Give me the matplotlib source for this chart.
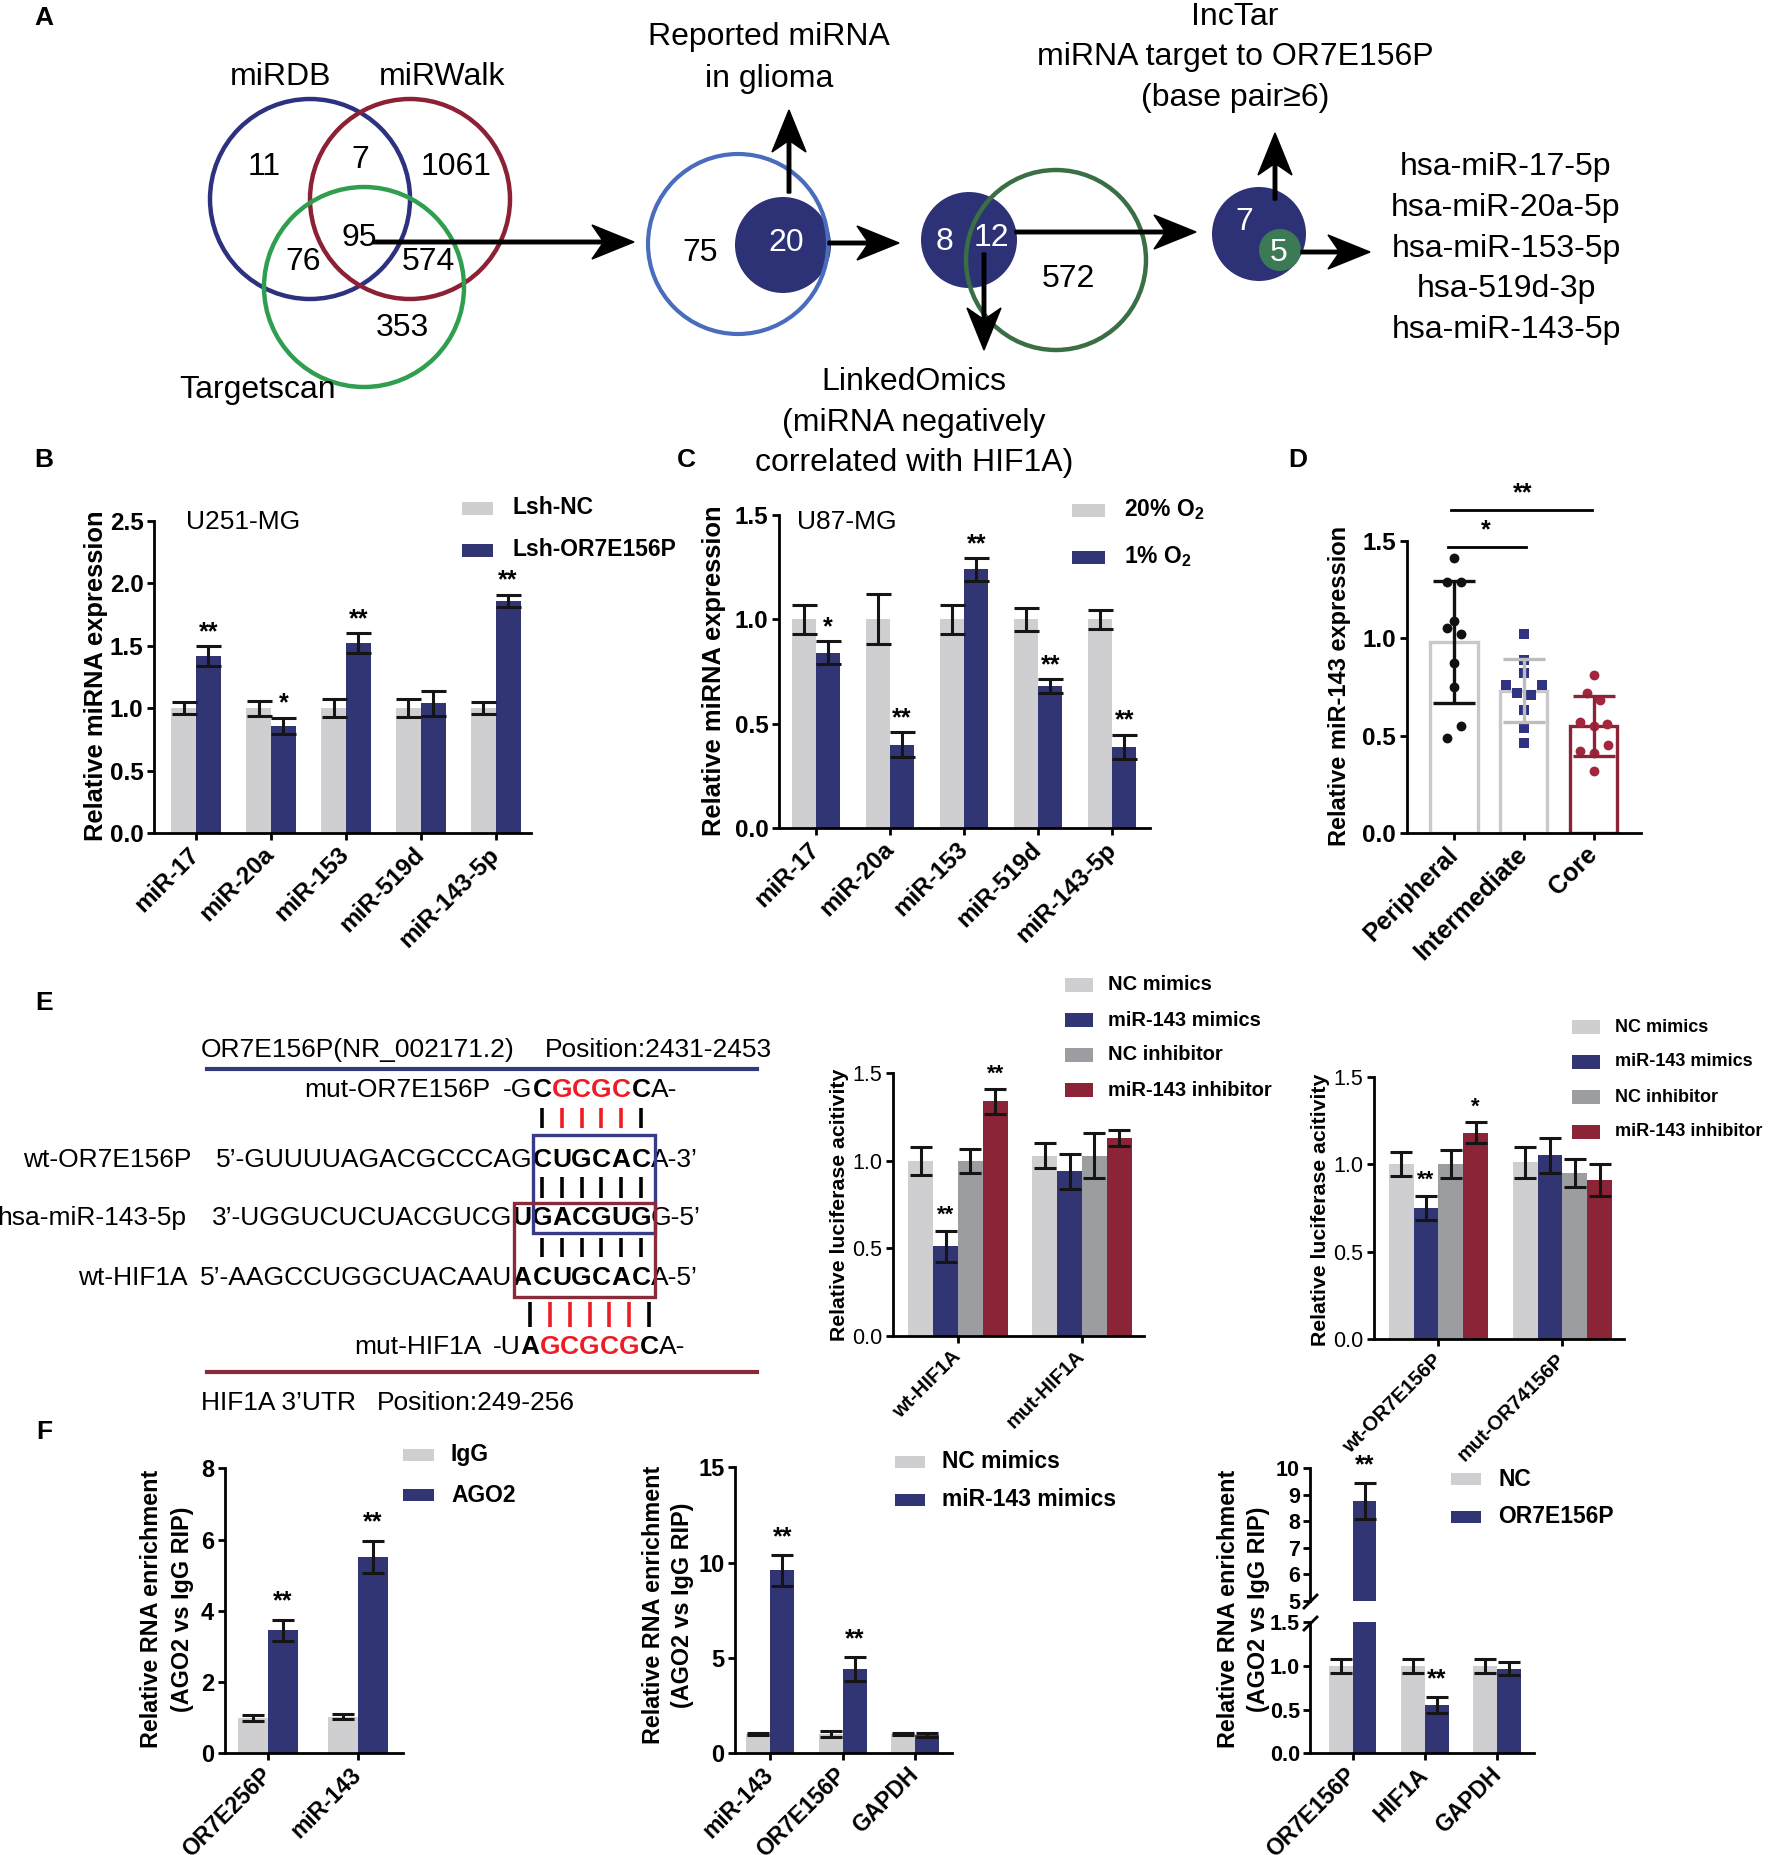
import numpy as np
import matplotlib
matplotlib.use('Agg')
import matplotlib.pyplot as plt
from matplotlib.patches import Circle, Rectangle

plt.rcParams['font.family'] = ['Liberation Sans', 'DejaVu Sans']
plt.rcParams['mathtext.fontset'] = 'custom'
plt.rcParams['mathtext.rm'] = 'Liberation Sans'
plt.rcParams['mathtext.bf'] = 'Liberation Sans:bold'

W, H = 1772, 1855
NAVY = '#323574'
LGRAY = '#cfcfd1'
DGRAY = '#9b9da1'
DRED = '#8c2437'
EC = '#151515'

# ---- A: screening counts
venn_sets = ['miRDB', 'miRWalk', 'Targetscan']
venn_counts = [11, 7, 1061, 76, 95, 574, 353]
glioma_counts = [75, 20]
hif_counts = [8, 12, 572]
lnctar_counts = [7, 5]
final_mirs = ['hsa-miR-17-5p', 'hsa-miR-20a-5p', 'hsa-miR-153-5p',
              'hsa-519d-3p', 'hsa-miR-143-5p']

# ---- B: U251-MG
b_mirs = ['miR-17', 'miR-20a', 'miR-153', 'miR-519d', 'miR-143-5p']
b_labels = ['Lsh-NC', 'Lsh-OR7E156P']
b_nc = [1.00, 1.00, 1.00, 1.00, 1.00]
b_nc_err = [0.05, 0.06, 0.07, 0.07, 0.05]
b_sh = [1.42, 0.86, 1.52, 1.04, 1.86]
b_sh_err = [0.08, 0.065, 0.08, 0.10, 0.05]
b_sig = ['**', '*', '**', '', '**']

# ---- C: U87-MG
c_mirs = ['miR-17', 'miR-20a', 'miR-153', 'miR-519d', 'miR-143-5p']
c_labels = [r'20% O$_\mathbf{2}$', r'1% O$_\mathbf{2}$']
c_norm = [1.00, 1.00, 1.00, 1.00, 1.00]
c_norm_err = [0.07, 0.12, 0.07, 0.055, 0.045]
c_hyp = [0.84, 0.40, 1.24, 0.68, 0.39]
c_hyp_err = [0.055, 0.06, 0.055, 0.035, 0.058]
c_sig = ['*', '**', '**', '**', '**']

# ---- D: tumour regions
d_regions = ['Peripheral', 'Intermediate', 'Core']
d_peripheral = [1.41, 1.29, 1.29, 1.09, 1.05, 1.02, 0.87, 0.75, 0.55, 0.49]
d_intermediate = [1.02, 0.89, 0.82, 0.76, 0.76, 0.72, 0.71, 0.63, 0.54, 0.46]
d_core = [0.81, 0.72, 0.68, 0.57, 0.56, 0.55, 0.45, 0.42, 0.41, 0.32]

# ---- E: sequences + luciferase
e_series = ['NC mimics', 'miR-143 mimics', 'NC inhibitor', 'miR-143 inhibitor']
e1_groups = ['wt-HIF1A', 'mut-HIF1A']
e1_nc_mim = [1.00, 1.03]
e1_nc_mim_err = [0.08, 0.07]
e1_mim = [0.51, 0.94]
e1_mim_err = [0.09, 0.10]
e1_nc_inh = [1.00, 1.03]
e1_nc_inh_err = [0.07, 0.13]
e1_inh = [1.34, 1.13]
e1_inh_err = [0.07, 0.045]
e1_sig_mim = ['**', '']
e1_sig_inh = ['**', '']

e2_groups = ['wt-OR7E156P', 'mut-OR74156P']
e2_nc_mim = [1.00, 1.01]
e2_nc_mim_err = [0.07, 0.09]
e2_mim = [0.75, 1.05]
e2_mim_err = [0.07, 0.10]
e2_nc_inh = [1.00, 0.95]
e2_nc_inh_err = [0.08, 0.08]
e2_inh = [1.18, 0.91]
e2_inh_err = [0.06, 0.09]
e2_sig_mim = ['**', '']
e2_sig_inh = ['*', '']

# ---- F: RIP
f1_genes = ['OR7E256P', 'miR-143']
f1_labels = ['IgG', 'AGO2']
f1_igg = [1.00, 1.03]
f1_igg_err = [0.08, 0.08]
f1_ago = [3.45, 5.52]
f1_ago_err = [0.30, 0.45]
f1_sig = ['**', '**']

f2_genes = ['miR-143', 'OR7E156P', 'GAPDH']
f2_labels = ['NC mimics', 'miR-143 mimics']
f2_nc = [1.00, 1.00, 1.00]
f2_nc_err = [0.05, 0.15, 0.05]
f2_mim = [9.60, 4.40, 0.97]
f2_mim_err = [0.80, 0.63, 0.12]
f2_sig = ['**', '**', '']

f3_genes = ['OR7E156P', 'HIF1A', 'GAPDH']
f3_labels = ['NC', 'OR7E156P']
f3_nc = [1.00, 1.00, 1.00]
f3_nc_err = [0.08, 0.08, 0.085]
f3_oe = [8.77, 0.55, 0.97]
f3_oe_err = [0.67, 0.09, 0.07]
f3_sig = ['**', '**', '']


fig = plt.figure(figsize=(W / 100, H / 100), dpi=100)
ov = fig.add_axes([0, 0, 1, 1])
ov.set_xlim(0, W)
ov.set_ylim(H, 0)
ov.axis('off')


def px_axes(x0, y0, x1, y1):
    ax = fig.add_axes([x0 / W, 1 - y1 / H, (x1 - x0) / W, (y1 - y0) / H])
    ax.patch.set_alpha(0)
    for s in ('top', 'right'):
        ax.spines[s].set_visible(False)
    for s in ('left', 'bottom'):
        ax.spines[s].set_linewidth(2)
    ax.tick_params(width=2, length=5, pad=2.5)
    return ax


def yticks(ax, ticks, fmt, fs=17.5, weight='bold'):
    ax.set_yticks(ticks, [fmt.format(t) for t in ticks], fontsize=fs, fontweight=weight)


def xlabels(ax, labels, fs=17.5, weight='bold'):
    ax.set_xticks(range(len(labels)), labels, rotation=45, ha='right', va='center',
                  rotation_mode='anchor', fontsize=fs, fontweight=weight)
    ax.tick_params(axis='x', pad=8)


def bars(ax, vals, errs, off, width, color, cap=9):
    x = np.arange(len(vals)) + off
    ax.bar(x, vals, width, color=color, linewidth=0, zorder=2)
    ax.errorbar(x, vals, yerr=errs, fmt='none', ecolor=EC, elinewidth=2.2,
                capsize=cap, capthick=2.2, zorder=3)
    return x


def stars(ax, x, vals, errs, marks, dy=10, fs=18):
    for xi, v, e, m in zip(x, vals, errs, marks):
        if m:
            ax.annotate(m, (xi, v + e), xytext=(0, dy), textcoords='offset points',
                        ha='center', va='center', fontsize=fs, fontweight='bold')


def legend_px(x, ys, labels, colors, tx, w=31, h=13, fs=16.5):
    for y, lab, c in zip(ys, labels, colors):
        ov.add_patch(Rectangle((x, y - h / 2), w, h, color=c, lw=0))
        ov.text(tx, y, lab, ha='left', va='center', fontsize=fs, fontweight='bold')


def ylab(x, y, text, fs=18.4):
    ov.text(x, y, text, rotation=90, ha='center', va='center', fontsize=fs,
            fontweight='bold')


def arrow(x0, y0, x1, y1):
    ov.arrow(x0, y0, x1 - x0, y1 - y0, width=3.5, head_width=34, head_length=42,
             length_includes_head=True, overhang=0.25, color='k', zorder=6)


# ---------------- panel letters
for lab, (x, y) in zip('ABCDEF', [(44, 18), (44, 460), (686, 460), (1298, 460),
                                  (44, 1003), (44, 1432)]):
    ov.text(x, y, lab, fontsize=19, fontweight='bold', ha='center', va='center')

# ---------------- A
AF = 23
for (cx, cy), col in zip([(310, 199), (410, 199), (364, 287)],
                         ['#2e3080', '#8c2035', '#2f9e4f']):
    ov.add_patch(Circle((cx, cy), 100, fill=False, ec=col, lw=3.2))
for name, (x, y) in zip(venn_sets, [(281, 77), (442, 77), (258, 390)]):
    ov.text(x, y, name, fontsize=AF, ha='center', va='center')
for n, (x, y) in zip(venn_counts, [(264, 167), (360, 160), (456, 167), (303, 262),
                                   (359, 238), (428, 262), (402, 328)]):
    ov.text(x, y, str(n), fontsize=AF, ha='center', va='center')

ov.add_patch(Circle((783, 245), 48, color='#2d3277', lw=0))
ov.add_patch(Circle((738, 244), 90, fill=False, ec='#4a6cbc', lw=3))
ov.text(700, 253, str(glioma_counts[0]), fontsize=AF, ha='center', va='center')
ov.text(786, 243, str(glioma_counts[1]), fontsize=AF, ha='center', va='center', color='w')
ov.text(769, 37, 'Reported miRNA', fontsize=AF, ha='center', va='center')
ov.text(769, 79, 'in glioma', fontsize=AF, ha='center', va='center')

ov.add_patch(Circle((969, 240), 48, color='#2d3277', lw=0))
ov.add_patch(Circle((1056, 260), 90, fill=False, ec='#3a6e44', lw=3.2))
ov.text(945, 242, str(hif_counts[0]), fontsize=AF, ha='center', va='center', color='w')
ov.text(991, 238, str(hif_counts[1]), fontsize=AF, ha='center', va='center', color='w')
ov.text(1068, 279, str(hif_counts[2]), fontsize=AF, ha='center', va='center')
for i, line in enumerate(['LinkedOmics', '(miRNA negatively', 'correlated with HIF1A)']):
    ov.text(914, 382 + 40.5 * i, line, fontsize=AF, ha='center', va='center')

ov.add_patch(Circle((1259, 234), 47, color='#2d3277', lw=0))
ov.add_patch(Circle((1280, 250), 21, color='#3b7a55', lw=0))
ov.text(1244, 222, str(lnctar_counts[0]), fontsize=AF, ha='center', va='center', color='w')
ov.text(1279, 253, str(lnctar_counts[1]), fontsize=AF, ha='center', va='center', color='w')
for i, line in enumerate(['IncTar', 'miRNA target to OR7E156P', '(base pair\u22656)']):
    ov.text(1235, 17 + 40.5 * i, line, fontsize=AF, ha='center', va='center')
for i, m in enumerate(final_mirs):
    ov.text(1506, 167 + 40.8 * i, m, fontsize=AF, ha='center', va='center')

arrow(373, 242, 634, 242)
arrow(828, 243, 899, 243)
arrow(789, 193, 789, 110)
arrow(1015, 232, 1196, 232)
arrow(984, 253, 984, 350)
arrow(1275, 200, 1275, 133)
arrow(1301, 252, 1370, 252)

# ---------------- B
ax = px_axes(154, 521, 531, 833)
bw = 0.33
bars(ax, b_nc, b_nc_err, -bw / 2, bw, LGRAY)
xb = bars(ax, b_sh, b_sh_err, bw / 2, bw, NAVY)
stars(ax, xb, b_sh, b_sh_err, b_sig)
ax.set_xlim(-0.56, 4.47)
ax.set_ylim(0, 2.5)
yticks(ax, [0, 0.5, 1.0, 1.5, 2.0, 2.5], '{:.1f}')
xlabels(ax, b_mirs)
ov.text(243, 522, 'U251-MG', fontsize=19, ha='center', va='center')
legend_px(462, [508, 550], b_labels, [LGRAY, NAVY], 513)
ylab(96, 676, 'Relative miRNA expression')

# ---------------- C
ax = px_axes(779, 515, 1150, 828)
bw = 0.325
bars(ax, c_norm, c_norm_err, -bw / 2, bw, LGRAY)
xc = bars(ax, c_hyp, c_hyp_err, bw / 2, bw, NAVY)
stars(ax, xc, c_hyp, c_hyp_err, c_sig)
ax.set_xlim(-0.5, 4.51)
ax.set_ylim(0, 1.5)
yticks(ax, [0, 0.5, 1.0, 1.5], '{:.1f}')
xlabels(ax, c_mirs)
ov.text(847, 522, 'U87-MG', fontsize=19, ha='center', va='center')
legend_px(1072, [510, 557], c_labels, [LGRAY, NAVY], 1124, w=33)
ylab(714, 671, 'Relative miRNA expression')

# ---------------- D
ax = px_axes(1406.5, 540.7, 1641, 833)
d_data = [d_peripheral, d_intermediate, d_core]
d_jitter = [[0, -0.1, 0.1, 0, -0.1, 0.1, 0, 0, 0.1, -0.1],
            [0, 0, 0, -0.26, 0.26, -0.1, 0.1, 0, 0, 0],
            [0, -0.095, 0.095, -0.19, 0.19, 0, 0.2, -0.2, 0, 0]]
edge_cols = ['#c9c9cc', '#c9c9cc', DRED]
err_cols = ['#111111', '#bdbdc0', DRED]
pt_cols = ['#111111', '#2f3381', '#a3263d']
markers = ['o', 's', 'o']
means = [np.mean(v) for v in d_data]
sds = [np.std(v, ddof=1) for v in d_data]
ax.bar(range(3), means, 0.68, facecolor='none', edgecolor=edge_cols, linewidth=2.4, zorder=1)
for i, vals in enumerate(d_data):
    ax.scatter(i + np.array(d_jitter[i]), vals, s=50, marker=markers[i], color=pt_cols[i],
               zorder=3, linewidths=0)
    ax.errorbar(i, means[i], yerr=sds[i], fmt='none', ecolor=err_cols[i], elinewidth=2.4,
                capsize=15, capthick=2.4, zorder=4)
ax.plot([-0.08, 1.03], [1.467, 1.467], color='k', lw=2, clip_on=False)
ax.plot([-0.04, 1.98], [1.66, 1.66], color='k', lw=2, clip_on=False)
ax.text(0.46, 1.555, '*', fontsize=18, fontweight='bold', ha='center', va='center')
ax.text(0.98, 1.745, '**', fontsize=18, fontweight='bold', ha='center', va='center')
ax.set_xlim(-0.68, 2.68)
ax.set_ylim(0, 1.5)
yticks(ax, [0, 0.5, 1.0, 1.5], '{:.1f}')
xlabels(ax, d_regions, fs=18)
ylab(1340, 686, 'Relative miR-143 expression', fs=17)

# ---------------- E sequences
SF = 19
col_x0, col_w = 542, 19.8


def seq_row(y, label, label_x, prefix, window, wcolors, suffix, start_col, shift=0):
    xs = [col_x0 + (start_col + i) * col_w + shift for i in range(len(window))]
    for ch, x, c in zip(window, xs, wcolors):
        ov.text(x, y, ch, color=c, fontsize=SF, fontweight='bold', ha='center', va='center')
    ov.text(xs[0] - col_w / 2, y, prefix, fontsize=SF, ha='right', va='center')
    ov.text(xs[-1] + col_w / 2, y, suffix, fontsize=SF, ha='left', va='center')
    ov.text(label_x, y, label, fontsize=SF, ha='right', va='center')
    return xs


def pair_marks(xs, y0, y1, colors):
    for x, c in zip(xs, colors):
        ov.plot([x, x], [y0, y1], color=c, lw=2.6, solid_capstyle='butt')


RED = '#ee1c24'
ov.text(201, 1050, 'OR7E156P(NR_002171.2)', fontsize=SF, ha='left', va='center')
ov.text(545, 1050, 'Position:2431-2453', fontsize=SF, ha='left', va='center')
ov.plot([207, 757], [1069, 1069], color='#333a7c', lw=3)

xs = seq_row(1090, 'mut-OR7E156P', 490, '-G', 'CGCGCC', ['k', RED, RED, RED, RED, 'k'], 'A-', 0)
pair_marks(xs, 1108, 1128, ['k', RED, RED, RED, RED, 'k'])
xs = seq_row(1160, 'wt-OR7E156P', 191, '5\u2019-GUUUUAGACGCCCAG', 'CUGCAC', ['k'] * 6, 'A-3\u2019', 0)
pair_marks(xs, 1177, 1198, ['k'] * 6)
seq_row(1218, 'hsa-miR-143-5p', 186, '3\u2019-UGGUCUCUACGUCG', 'UGACGUG', ['k'] * 7, 'G-5\u2019', -1)
pair_marks(xs, 1238, 1257, ['k'] * 6)
seq_row(1278, 'wt-HIF1A', 188, '5\u2019-AAGCCUGGCUACAAU', 'ACUGCAC', ['k'] * 7, 'A-5\u2019', -1)
mut_cols = ['k', RED, RED, RED, RED, RED, 'k']
xs = seq_row(1347, 'mut-HIF1A', 482, '-U', 'AGCGCGC', mut_cols, 'A-', -1, shift=8)
pair_marks(xs, 1302, 1327, mut_cols)
ov.add_patch(Rectangle((533, 1135), 122, 98, fill=False, ec='#383c88', lw=2.4, zorder=5))
ov.add_patch(Rectangle((514, 1203), 141, 94, fill=False, ec='#8a2b3c', lw=2.4, zorder=5))
ov.plot([207, 757], [1372, 1372], color='#8a2b3c', lw=3)
ov.text(201, 1403, 'HIF1A 3\u2019UTR', fontsize=SF, ha='left', va='center')
ov.text(377, 1403, 'Position:249-256', fontsize=SF, ha='left', va='center')

# ---------------- E luciferase
e_cols = [LGRAY, NAVY, DGRAY, DRED]


def luc(box, groups, series, errs, sig_mim, sig_inh, leg_x, leg_ys, leg_fs, yl_x, yl_y):
    ax = px_axes(*box)
    w = 0.2
    xs = []
    for k, (v, e, c) in enumerate(zip(series, errs, e_cols)):
        xs.append(bars(ax, v, e, (k - 1.5) * w, w, c, cap=8))
    stars(ax, xs[1], series[1], errs[1], sig_mim, dy=11, fs=16)
    stars(ax, xs[3], series[3], errs[3], sig_inh, dy=11, fs=16)
    ax.set_xlim(-0.524, 1.5)
    ax.set_ylim(0, 1.5)
    yticks(ax, [0, 0.5, 1.0, 1.5], '{:.1f}', fs=15.5, weight='normal')
    xlabels(ax, groups, fs=14.5)
    legend_px(leg_x, leg_ys, e_series, e_cols, leg_x + 43, w=28, h=14, fs=leg_fs)
    ylab(yl_x, yl_y, 'Relative luciferase acitivity', fs=15.3)


luc((893, 1073.3, 1144, 1335.7), e1_groups,
    [e1_nc_mim, e1_mim, e1_nc_inh, e1_inh],
    [e1_nc_mim_err, e1_mim_err, e1_nc_inh_err, e1_inh_err],
    e1_sig_mim, e1_sig_inh, 1065, [985, 1020, 1055, 1090], 14.5, 840, 1205)
luc((1373.5, 1076.7, 1624.5, 1339), e2_groups,
    [e2_nc_mim, e2_mim, e2_nc_inh, e2_inh],
    [e2_nc_mim_err, e2_mim_err, e2_nc_inh_err, e2_inh_err],
    e2_sig_mim, e2_sig_inh, 1572, [1027, 1062, 1097, 1132], 13, 1321, 1210)

# ---------------- F
ax = px_axes(224.6, 1468.3, 403, 1753.3)
bw = 0.33
bars(ax, f1_igg, f1_igg_err, -bw / 2, bw, LGRAY, cap=8)
xf = bars(ax, f1_ago, f1_ago_err, bw / 2, bw, NAVY, cap=8)
stars(ax, xf, f1_ago, f1_ago_err, f1_sig, dy=13)
ax.set_xlim(-0.483, 1.5)
ax.set_ylim(0, 8)
yticks(ax, [0, 2, 4, 6, 8], '{:d}', fs=17)
xlabels(ax, f1_genes, fs=16.5)
legend_px(403, [1455, 1495], f1_labels, [LGRAY, NAVY], 451, w=31, h=12)
ylab(152, 1609, 'Relative RNA enrichment', fs=16.8)
ylab(183, 1609, '(AGO2 vs IgG RIP)', fs=16.8)

ax = px_axes(734.7, 1467.3, 952, 1753.3)
bars(ax, f2_nc, f2_nc_err, -bw / 2, bw, LGRAY, cap=8)
xf = bars(ax, f2_mim, f2_mim_err, bw / 2, bw, NAVY, cap=8)
stars(ax, xf, f2_mim, f2_mim_err, f2_sig, dy=13)
ax.set_xlim(-0.49, 2.51)
ax.set_ylim(0, 15)
yticks(ax, [0, 5, 10, 15], '{:d}', fs=17)
xlabels(ax, f2_genes, fs=16.5)
legend_px(894.7, [1461.7, 1500], f2_labels, [LGRAY, NAVY], 941.7, w=30, h=12)
ylab(653.6, 1605, 'Relative RNA enrichment', fs=16.8)
ylab(682.3, 1605, '(AGO2 vs IgG RIP)', fs=16.8)

top = px_axes(1310.3, 1468.3, 1534.2, 1601)
low = px_axes(1310.3, 1622.3, 1534.2, 1753.3)
for a in (top, low):
    bars(a, f3_nc, f3_nc_err, -bw / 2, bw, LGRAY, cap=8)
    xf = bars(a, f3_oe, f3_oe_err, bw / 2, bw, NAVY, cap=8)
    a.set_xlim(-0.585, 2.51)
top.set_ylim(5, 10)
low.set_ylim(0, 1.5)
top.spines['bottom'].set_visible(False)
top.set_xticks([])
yticks(top, [5, 6, 7, 8, 9, 10], '{:d}', fs=15.5)
yticks(low, [0, 0.5, 1.0, 1.5], '{:.1f}', fs=15.5)
stars(top, xf, f3_oe, f3_oe_err, [m if v > 5 else '' for v, m in zip(f3_oe, f3_sig)], dy=13)
stars(low, xf, f3_oe, f3_oe_err, [m if v <= 1.5 else '' for v, m in zip(f3_oe, f3_sig)], dy=13)
xlabels(low, f3_genes, fs=16.5)
ov.plot([1304, 1317], [1608, 1595], color='k', lw=2)
ov.plot([1304, 1317], [1630, 1617], color='k', lw=2)
legend_px(1451, [1479.3, 1516.7], f3_labels, [LGRAY, NAVY], 1498.3, w=30, h=12)
ylab(1229, 1609, 'Relative RNA enrichment', fs=16.8)
ylab(1259, 1609, '(AGO2 vs IgG RIP)', fs=16.8)

fig.savefig('out.png', dpi=100)
